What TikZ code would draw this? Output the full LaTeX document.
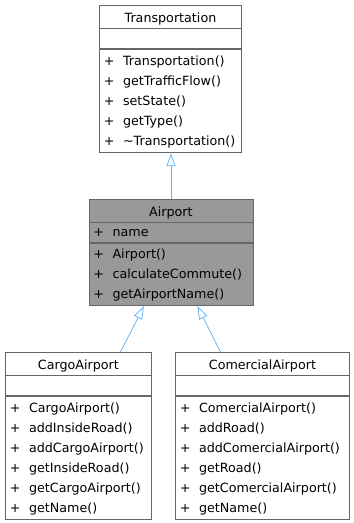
\documentclass[tikz,border=0pt]{standalone}
\usepackage{fontspec}
\setmainfont{DejaVu Sans}
\usetikzlibrary{positioning,arrows.meta}

\definecolor{boxgray}{HTML}{666666}
\definecolor{basefill}{HTML}{999999}
\definecolor{edgeblue}{HTML}{63B8FF}

% one member line, 20pt high
\newcommand{\mline}[1]{\rule[-6pt]{0pt}{20pt}#1}

\tikzset{
  umlfont/.style={font=\fontsize{12.7}{20}\selectfont},
  classtitle/.style={umlfont, draw=boxgray, line width=0.9pt, anchor=north west,
    minimum height=22.5pt, inner sep=0pt, text height=14pt, text depth=1.5pt},
  classpart/.style={umlfont, draw=boxgray, line width=0.9pt, inner xsep=4.5pt,
    inner ysep=0pt, align=left, text width=#1},
  inherit/.style={draw=edgeblue, line width=0.8pt, -{Triangle[open,length=13pt,width=9pt]}},
}

\begin{document}
\begin{tikzpicture}[x=1pt,y=-1pt]
    \useasboundingbox (0,0) rectangle (354,523);
    % base class
    \node[classtitle, minimum width=142pt] (transport) at (99,5) {Transportation};
    \node[classpart=133pt, below=0pt of transport] (transportattr) {\mline{}};
    \node[classpart=133pt, below=0pt of transportattr, inner ysep=1.5pt] (transportops)
        {\mline{+~~Transportation()}\\
         \mline{+~~getTrafficFlow()}\\
         \mline{+~~setState()}\\
         \mline{+~~getType()}\\
         \mline{+~~\textasciitilde Transportation()}};
    % Airport (highlighted)
    \node[classtitle, minimum width=164pt, fill=basefill] (airport) at (88.5,199) {Airport};
    \node[classpart=155pt, fill=basefill, below=0pt of airport] (airportattr) {\mline{+~~name}};
    \node[classpart=155pt, fill=basefill, below=0pt of airportattr, inner ysep=1pt] (airportops)
        {\mline{+~~Airport()}\\
         \mline{+~~calculateCommute()}\\
         \mline{+~~getAirportName()}};
    % derived classes
    \node[classtitle, minimum width=146pt] (cargo) at (5,352) {CargoAirport};
    \node[classpart=137pt, below=0pt of cargo] (cargoattr) {\mline{}};
    \node[classpart=137pt, below=0pt of cargoattr, inner ysep=1.5pt] (cargoops)
        {\mline{+~~CargoAirport()}\\
         \mline{+~~addInsideRoad()}\\
         \mline{+~~addCargoAirport()}\\
         \mline{+~~getInsideRoad()}\\
         \mline{+~~getCargoAirport()}\\
         \mline{+~~getName()}};
    \node[classtitle, minimum width=174pt] (comercial) at (175,352) {ComercialAirport};
    \node[classpart=165pt, below=0pt of comercial] (comercialattr) {\mline{}};
    \node[classpart=165pt, below=0pt of comercialattr, inner ysep=1.5pt] (comercialops)
        {\mline{+~~ComercialAirport()}\\
         \mline{+~~addRoad()}\\
         \mline{+~~addComercialAirport()}\\
         \mline{+~~getRoad()}\\
         \mline{+~~getComercialAirport()}\\
         \mline{+~~getName()}};
    % inheritance arrows
    \draw[inherit] (airport.north) -- (airport.north |- transportops.south);
    \draw[inherit] ([xshift=42pt]cargo.north) -- ([xshift=-27pt]airportops.south);
    \draw[inherit] ([xshift=-42pt]comercial.north) -- ([xshift=26.5pt]airportops.south);
\end{tikzpicture}
\end{document}
